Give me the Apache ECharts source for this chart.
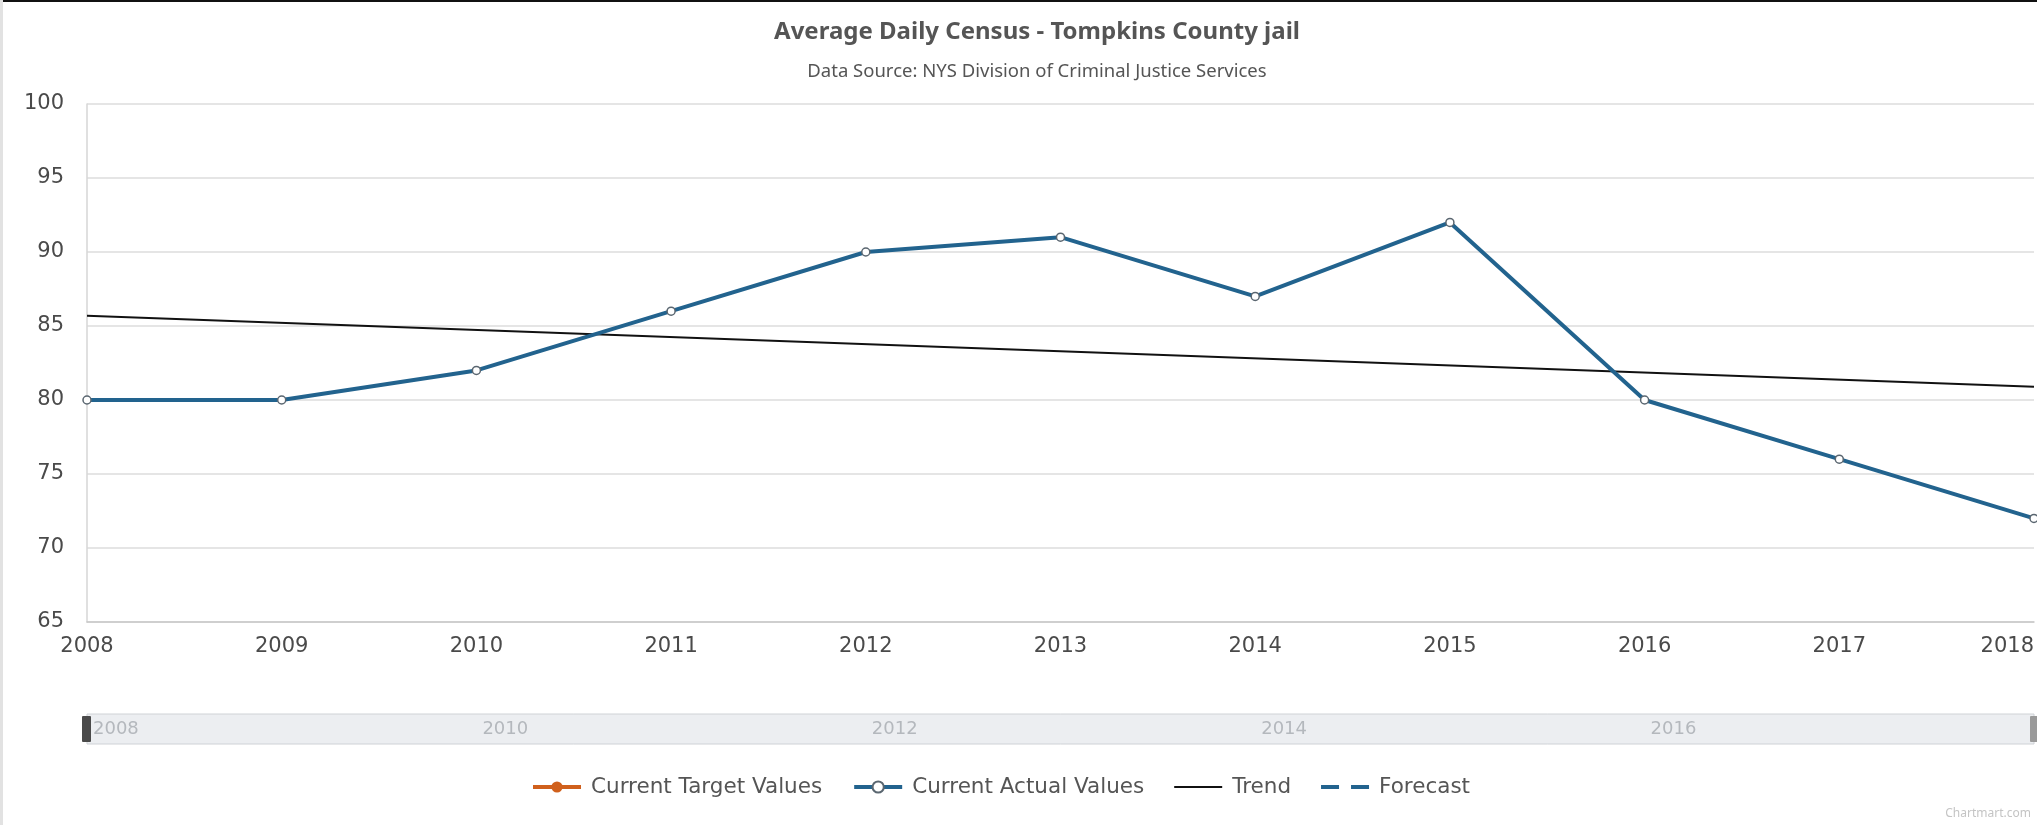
<!DOCTYPE html>
<html>
<head>
<meta charset="utf-8">
<title>Average Daily Census - Tompkins County jail</title>
<script src="https://cdn.jsdelivr.net/npm/echarts@6/dist/echarts.min.js"></script>
<style>
    html, body { margin: 0; padding: 0; background: #fff; }
    #chart { width: 2037px; height: 825px; }
</style>
</head>
<body>
<div id="chart"></div>
<script>
// years on the x axis
var years = ['2008', '2009', '2010', '2011', '2012', '2013', '2014', '2015', '2016', '2017', '2018'];
// average daily census
var actualValues = [80, 80, 82, 86, 90, 91, 87, 92, 80, 76, 72];
// target series has no visible points
var targetValues = [];
// trend line end points (2008 and 2018)
var trendYears = ['2008', '2018'];
var trendValues = [85.7, 80.9];
var forecastValues = [];
// labels in the scroll bar
var scrollLabels = ['2008', '2010', '2012', '2014', '2016'];

var blue = '#22638e';
var orange = '#d0601c';
var font = '"Noto Sans", "Open Sans", sans-serif';
var wideFont = '"DejaVu Sans", Verdana, sans-serif';

var chart = echarts.init(document.getElementById('chart'));

var option = {
    backgroundColor: '#ffffff',
    animation: false,
    textStyle: { fontFamily: font },
    title: {
        text: 'Average Daily Census - Tompkins County jail',
        subtext: 'Data Source: NYS Division of Criminal Justice Services',
        left: 1032,
        top: 15,
        textAlign: 'center',
        itemGap: 18,
        textStyle: { fontSize: 24, fontWeight: 'bold', color: '#555555', fontFamily: font },
        subtextStyle: { fontSize: 18.5, color: '#555555', fontFamily: font }
    },
    legend: {
        left: 526,
        top: 771,
        itemGap: 30,
        itemWidth: 48,
        itemHeight: 14,
        lineStyle: { width: 4 },
        textStyle: { fontSize: 21.5, color: '#555555', fontFamily: wideFont, padding: [0, 0, 0, 5] },
        data: [
            { name: 'Current Target Values' },
            { name: 'Current Actual Values' },
            { name: 'Trend', icon: 'path://M0,6H48V8H0Z' },
            { name: 'Forecast', icon: 'path://M0,5H18V9H0ZM30,5H48V9H30Z' }
        ]
    },
    grid: [
        { left: 87, top: 104, width: 1960, height: 518, containLabel: false },
        {
            left: 87, top: 714, width: 1960, height: 30,
            show: true, backgroundColor: '#eceef1', borderColor: '#cfd2d6', borderWidth: 1
        }
    ],
    xAxis: [
        {
            type: 'category',
            gridIndex: 0,
            data: years,
            boundaryGap: false,
            axisLine: { lineStyle: { color: '#c8c8c8', width: 1.5 } },
            axisTick: { show: false },
            axisLabel: {
                fontSize: 21, color: '#4a4a4a', margin: 14, fontFamily: wideFont,
                alignMaxLabel: 'right'
            },
            splitLine: { show: false }
        },
        {
            type: 'category',
            gridIndex: 1,
            data: years,
            boundaryGap: false,
            axisLine: { show: false },
            axisTick: { show: false },
            axisLabel: {
                inside: true,
                margin: 6,
                align: 'left',
                padding: [0, 0, 0, 6],
                color: '#b4b8bd',
                fontSize: 18,
                fontFamily: wideFont,
                formatter: function (v) {
                    return scrollLabels.indexOf(v) >= 0 ? v : '';
                }
            },
            splitLine: { show: false }
        }
    ],
    yAxis: [
        {
            type: 'value',
            gridIndex: 0,
            min: 65,
            max: 100,
            interval: 5,
            axisLine: { show: true, lineStyle: { color: '#d6d6d6', width: 1.5 } },
            axisTick: { show: false },
            axisLabel: { fontSize: 21, color: '#4a4a4a', margin: 23, fontFamily: wideFont },
            splitLine: { lineStyle: { color: '#dcdcdc', width: 1.5 } }
        },
        { type: 'value', gridIndex: 1, show: false }
    ],
    series: [
        {
            name: 'Current Target Values',
            type: 'line',
            data: targetValues,
            color: orange,
            symbol: 'circle',
            symbolSize: 10,
            lineStyle: { width: 4, color: orange },
            itemStyle: { color: orange }
        },
        {
            name: 'Current Actual Values',
            type: 'line',
            data: actualValues,
            color: blue,
            symbol: 'circle',
            symbolSize: 8,
            lineStyle: { width: 4, color: blue },
            itemStyle: { color: '#ffffff', borderColor: '#5a6670', borderWidth: 1.5 },
            z: 3
        },
        {
            name: 'Trend',
            type: 'line',
            data: trendYears.map(function (y, i) { return [y, trendValues[i]]; }),
            color: '#111111',
            symbol: 'none',
            lineStyle: { width: 2, color: '#111111' },
            itemStyle: { color: '#111111' },
            z: 2
        },
        {
            name: 'Forecast',
            type: 'line',
            data: forecastValues,
            color: blue,
            symbol: 'none',
            lineStyle: { width: 4, color: blue, type: [14, 10] },
            itemStyle: { color: blue }
        }
    ],
    graphic: [
        // top dark edge of the screenshot
        { type: 'rect', left: 0, top: 0, shape: { width: 2037, height: 2 }, style: { fill: '#111111' }, silent: true },
        // left edge of the chart frame
        { type: 'rect', left: 0, top: 0, shape: { width: 3, height: 825 }, style: { fill: '#e2e2e2' }, silent: true },
        // scroll bar handles
        { type: 'rect', left: 82, top: 716, shape: { width: 9, height: 26, r: 1 }, style: { fill: '#4a4a4a' }, silent: true, z: 10 },
        { type: 'rect', left: 2030, top: 716, shape: { width: 9, height: 26, r: 1 }, style: { fill: '#9a9a9a' }, silent: true, z: 10 },
        {
            type: 'text', right: 6, top: 808,
            style: { text: 'Chartmart.com', fill: '#c4c4c4', fontSize: 12, fontFamily: font },
            silent: true
        }
    ]
};

chart.setOption(option);
</script>
</body>
</html>
